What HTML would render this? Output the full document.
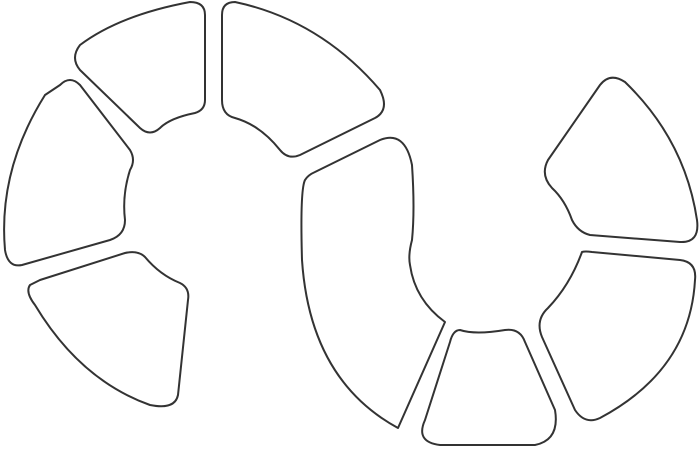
<!DOCTYPE html>
<html><head><meta charset="utf-8"><style>html,body{margin:0;padding:0;background:#fff}svg{display:block}</style></head>
<body>
<svg width="700" height="453" viewBox="0 0 700 453" xmlns="http://www.w3.org/2000/svg">
<g fill="#fff" stroke="#333" stroke-width="2" stroke-linejoin="round">
<path d="M80,45 Q120,15 190,2 Q205,2 205,15 L205,100 Q205,110 195,113 Q170,118 160,128 Q150,137 140,128 L80,70 Q70,58 80,45Z"/>
<path d="M235,2 Q320,20 380,90 Q390,110 375,118 L300,155 Q288,160 280,150 Q260,125 235,118 Q222,115 222,100 L222,15 Q222,2 235,2Z"/>
<path d="M60,85 Q70,75 80,85 L130,150 Q136,160 130,170 Q122,195 125,220 Q125,235 110,240 L22,265 Q8,268 5,250 Q-2,170 45,95 Z"/>
<path d="M30,285 Q25,292 35,305 Q80,380 150,405 Q175,410 178,395 L188,300 Q190,288 180,283 Q160,275 145,257 Q138,250 125,253 L40,280 Z"/>
<path d="M305,180 Q300,190 302,260 Q310,380 398,428 L445,322 Q415,300 410,265 Q408,255 412,240 Q415,210 412,165 Q405,130 380,140 L315,172 Q308,175 305,180Z"/>
<path d="M460,330 Q475,335 505,330 Q520,328 525,342 L555,410 Q560,440 535,445 L440,445 Q415,442 425,420 L450,342 Q453,330 460,330Z"/>
<path d="M548,160 L600,85 Q610,72 625,82 Q685,140 697,220 Q700,243 680,242 L590,235 Q578,232 572,220 Q565,200 552,188 Q540,175 548,160Z"/>
<path d="M582,252 Q570,285 548,308 Q535,320 542,337 L575,410 Q585,425 600,418 Q690,370 695,280 Q697,262 680,260 L592,252 Q585,251 582,252Z"/>
</g>
</svg>
</body></html>
